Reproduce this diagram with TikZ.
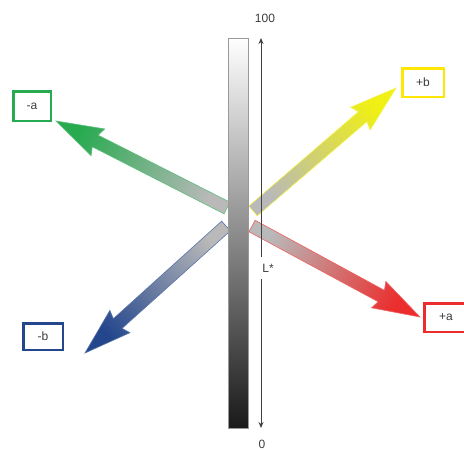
\documentclass[tikz,border=0pt]{standalone}
\usepackage{fontspec}
\setmainfont{Liberation Sans}
\usetikzlibrary{calc,arrows.meta}
\definecolor{ga}{RGB}{40,170,80}
\definecolor{yb}{RGB}{240,240,20}
\definecolor{ra}{RGB}{235,45,45}
\definecolor{bb}{RGB}{35,70,140}
\definecolor{txt}{RGB}{60,60,60}
\definecolor{shaftgray}{RGB}{185,185,185}
\tikzset{
  labbox/.style={draw, line width=2.5pt, inner sep=0pt, text=txt, font=\fontsize{12}{14}\selectfont},
  axislabel/.style={text=txt, font=\fontsize{12}{14}\selectfont, inner sep=1pt},
  axisline/.style={draw=black!75, line width=0.9pt, -{Stealth[length=6pt,width=5pt]}},
  lumbar/.style={draw=gray!80, line width=0.8pt, top color=white, bottom color=black!90, minimum width=20pt, minimum height=390pt, inner sep=0pt},
}
\newcommand\colarrow[5]{%
  \coordinate (#5h) at ($(#2)!44pt!(#1)$);
  \coordinate (#5b) at ($(#2)!47pt!(#1)$);
  \shade[bottom color=shaftgray, top color=#3, shading angle=#4, draw=#3!75, line width=0.6pt]
    ($(#1)!6.5pt!90:(#2)$) -- ($(#5h)!6.5pt!90:(#2)$) -- ($(#5b)!15pt!90:(#2)$) -- (#2)
    -- ($(#5b)!15pt!-90:(#2)$) -- ($(#5h)!6.5pt!-90:(#2)$) -- ($(#1)!6.5pt!-90:(#2)$) -- cycle;
}
\begin{document}
\begin{tikzpicture}[x=1pt,y=-1pt]
\useasboundingbox (0,0) rectangle (464,450);
\fill[white] (0,0) rectangle (464,450);
% tails and tips
\coordinate (gT) at (227,208); \coordinate (gP) at (56,121);
\coordinate (yT) at (253,211); \coordinate (yP) at (396,88);
\coordinate (rT) at (252,226); \coordinate (rP) at (420,317);
\coordinate (bT) at (226,226); \coordinate (bP) at (85,353);
\colarrow{gT}{gP}{ga}{63}{g}
\colarrow{yT}{yP}{yb}{-49.3}{y}
\colarrow{rT}{rP}{ra}{-118.4}{r}
\colarrow{bT}{bP}{bb}{132}{b}
% lightness bar
\node[lumbar] (bar) at (238,233) {};
% L* axis
\coordinate (Ltop) at (261,38);
\coordinate (Lbot) at (261,428);
\node[axislabel, inner ysep=7pt] (Lst) at (268,268) {L*};
\draw[axisline] (Lst.north -| Ltop) -- (Ltop);
\draw[axisline] (Lst.south -| Lbot) -- (Lbot);
\node[axislabel] (hundred) at (265,18) {100};
\node[axislabel] (zero) at (262,444) {0};
% boxes
\node[labbox, draw=ga, minimum width=37.5pt, minimum height=29.5pt] (ma) at (32,106) {-a};
\node[labbox, draw=yellow!95!red, minimum width=41.5pt, minimum height=28.5pt] (pb) at (423,82.5) {+b};
\node[labbox, draw=ra, minimum width=43.5pt, minimum height=28.5pt] (pa) at (446,317.5) {+a};
\node[labbox, draw=bb, minimum width=39.5pt, minimum height=26.5pt] (mb) at (43,336.5) {-b};
\end{tikzpicture}
\end{document}
